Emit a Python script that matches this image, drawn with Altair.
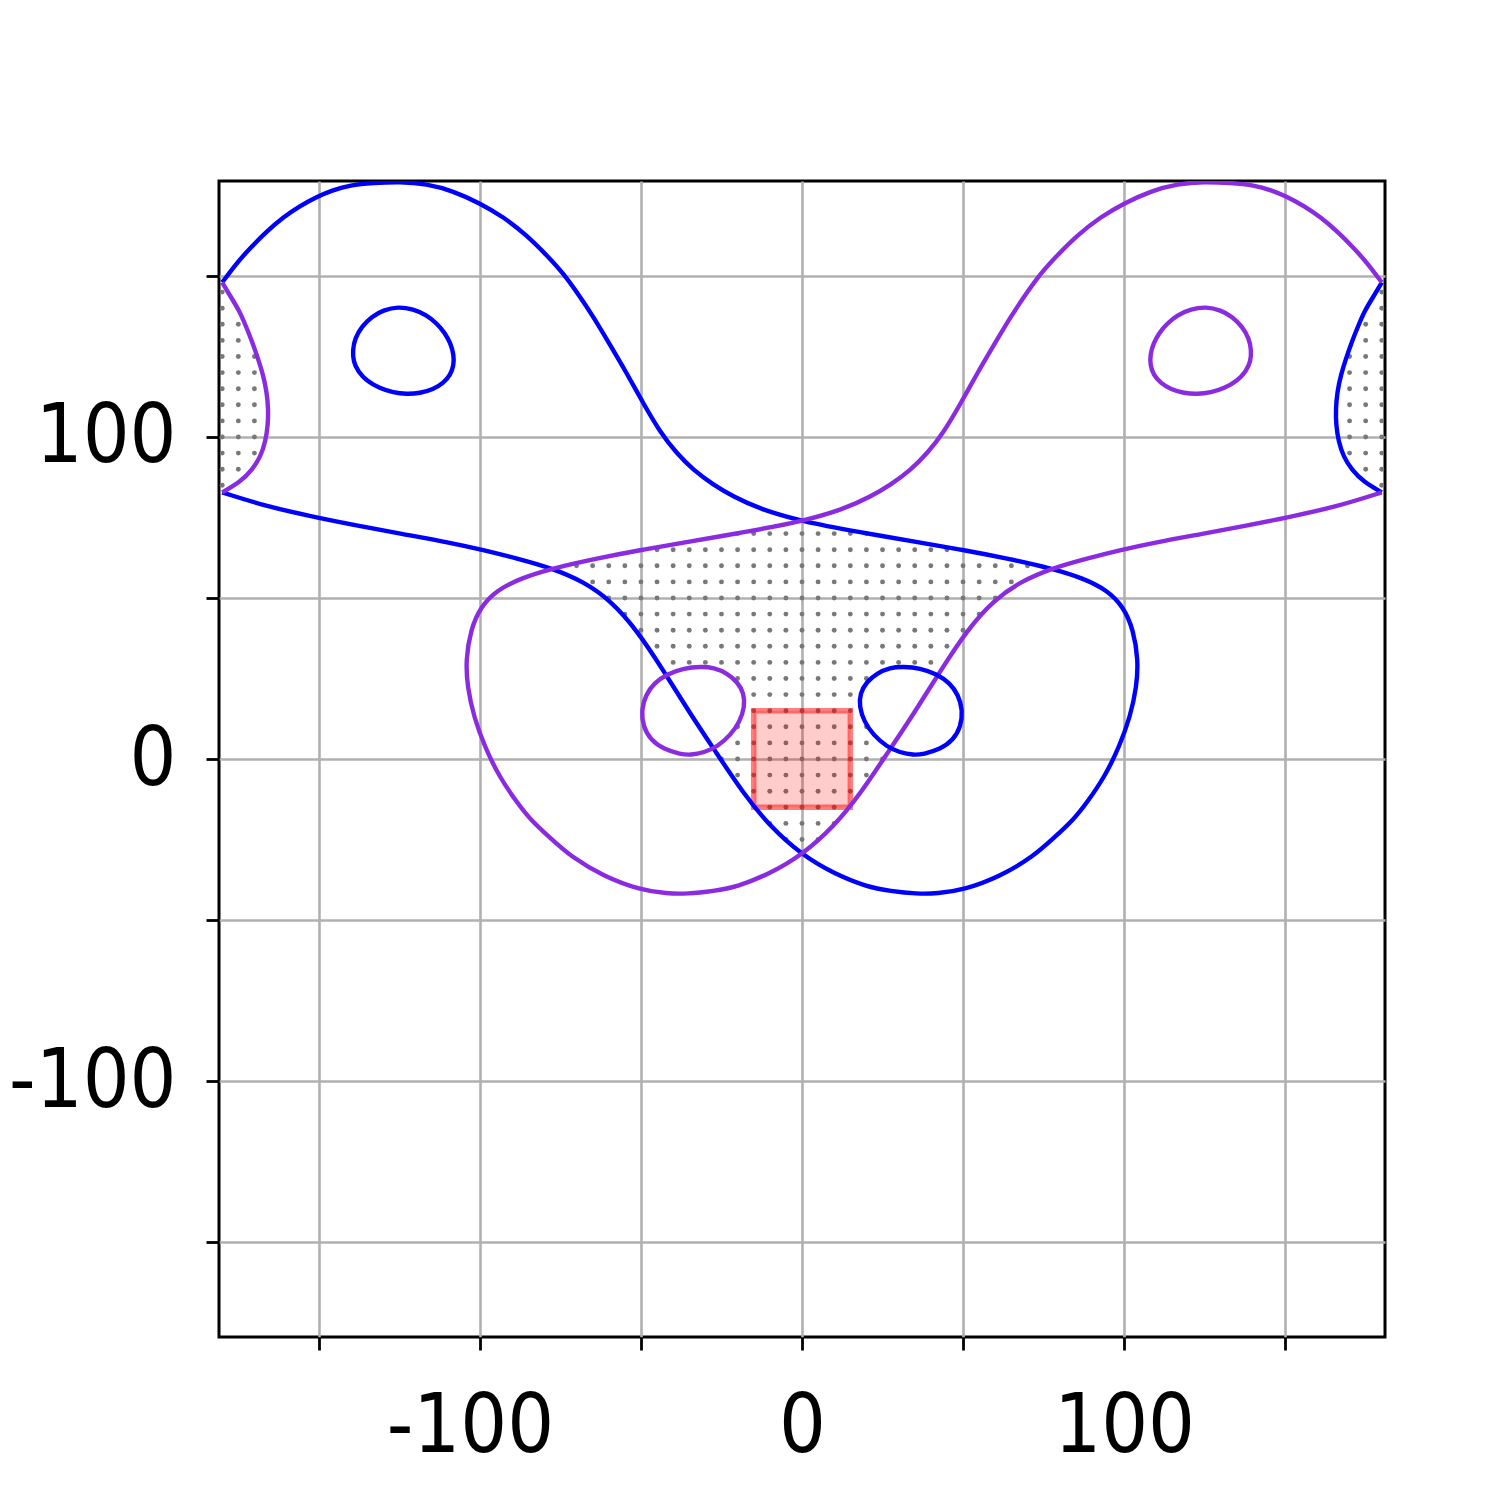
import altair as alt
import pandas as pd

# ---------------- data (phi = x, psi = y) ----------------
X_DOMAIN = [-181, 181]
Y_DOMAIN = [-179.5, 179.5]
TICKS = [-150, -100, -50, 0, 50, 100, 150]

# blue main contour (wraps around the periodic domain)
blue_main_x = [-180.0, -175.6, -171.4, -166.2, -161.1, -155.9, -150.7, -145.6, -140.4, -133.1,
               -124.8, -116.6, -108.3, -100.0, -92.8, -85.5, -79.3, -74.1, -70.0, -64.8,
               -59.6, -54.4, -49.3, -44.1, -38.9, -33.8, -27.5, -21.3, -13.0, 0.0,
               17.0, 37.7, 50.1, 63.6, 77.5, 87.4, 94.6, 99.8, 102.9, 104.4,
               103.9, 101.9, 98.5, 94.0, 88.5, 84.3, 78.1, 71.8, 61.5, 50.1,
               42.0, 35.6, 27.5, 20.1, 9.7, 0.0, -9.9, -18.2, -26.5, -34.8,
               -43.1, -51.3, -59.6, -67.9, -77.5, -88.6, -99.0, -109.3, -124.8, -137.0,
               -149.7, -166.2, -180.0]
blue_main_y = [148.0, 153.9, 158.6, 163.8, 168.2, 171.7, 174.6, 176.7, 178.2, 178.9,
               179.3, 178.6, 176.4, 172.6, 168.4, 162.7, 156.5, 150.8, 145.1, 137.4,
               128.6, 119.8, 110.5, 101.6, 94.9, 89.8, 85.1, 81.5, 77.6, 73.8,
               70.6, 67.0, 64.9, 62.3, 59.2, 56.1, 52.5, 47.3, 40.1, 30.7,
               22.5, 13.1, 3.8, -5.5, -13.5, -18.9, -24.6, -30.3, -36.5, -40.7,
               -41.8, -41.9, -41.0, -39.7, -35.5, -29.8, -21.0, -10.7, 1.8, 14.2,
               27.6, 40.1, 49.4, 55.1, 59.2, 62.3, 64.9, 67.2, 70.0, 72.3,
               74.8, 78.4, 82.8]
# blue piece on the right edge
blue_edge_x = [180.0, 177.4, 174.8, 172.8, 170.7, 168.9, 167.3, 166.2, 165.7, 165.8, 166.6, 168.1, 170.7, 174.3, 180.0]
blue_edge_y = [148.0, 143.6, 139.4, 134.8, 129.6, 124.4, 119.3, 114.1, 108.9, 103.7, 98.5, 93.9, 89.8, 86.1, 82.8]
# blue small loops
blue_loop1_x = [-125.4, -120.7, -116.6, -113.4, -110.9, -109.1, -108.1, -108.1, -109.1, -111.4, -114.5, -118.6,
                -122.8, -126.9, -131.1, -135.2, -137.8, -139.3, -139.5, -138.8, -136.7, -133.6, -130.0]
blue_loop1_y = [140.5, 139.7, 137.9, 135.3, 132.4, 129.1, 125.5, 122.4, 119.3, 116.7, 114.8, 113.6,
                113.3, 113.8, 115.1, 117.5, 120.3, 123.4, 127.0, 130.6, 134.3, 137.4, 139.4]
blue_loop2_x = [31.5, 36.6, 41.8, 46.0, 48.5, 49.9, 49.3, 47.0, 42.9, 37.7, 34.6, 30.4, 26.3, 22.1, 19.3, 17.8, 18.0, 20.1, 23.2, 27.3]
blue_loop2_y = [28.7, 28.2, 26.4, 23.5, 19.9, 15.2, 10.0, 5.9, 3.0, 1.5, 1.2, 2.0, 3.8, 7.5, 11.6, 16.2, 20.4, 24.0, 26.6, 28.4]

# purple main contour
purple_main_x = [180.0, 175.6, 171.4, 166.2, 161.1, 155.9, 150.7, 145.6, 140.4, 133.1,
                 124.8, 116.6, 108.3, 100.0, 92.8, 85.5, 79.3, 74.1, 70.0, 64.8,
                 59.6, 54.4, 49.3, 44.1, 38.9, 33.8, 27.5, 21.3, 13.0, 0.0,
                 -17.0, -37.7, -50.1, -63.6, -77.5, -87.4, -94.6, -99.8, -102.9, -104.4,
                 -103.9, -101.9, -98.5, -94.0, -88.5, -84.3, -78.1, -71.8, -61.5, -50.1,
                 -42.0, -35.6, -27.5, -20.1, -9.7, 0.0, 9.9, 18.2, 26.5, 34.8,
                 43.1, 51.3, 59.6, 67.9, 77.5, 88.6, 99.0, 109.3, 124.8, 137.0,
                 149.7, 166.2, 180.0]
purple_main_y = [148.0, 153.9, 158.6, 163.8, 168.2, 171.7, 174.6, 176.7, 178.2, 178.9,
                 179.3, 178.6, 176.4, 172.6, 168.4, 162.7, 156.5, 150.8, 145.1, 137.4,
                 128.6, 119.8, 110.5, 101.6, 94.9, 89.8, 85.1, 81.5, 77.6, 73.8,
                 70.6, 67.0, 64.9, 62.3, 59.2, 56.1, 52.5, 47.3, 40.1, 30.7,
                 22.5, 13.1, 3.8, -5.5, -13.5, -18.9, -24.6, -30.3, -36.5, -40.7,
                 -41.8, -41.9, -41.0, -39.7, -35.5, -29.8, -21.0, -10.7, 1.8, 14.2,
                 27.6, 40.1, 49.4, 55.1, 59.2, 62.3, 64.9, 67.2, 70.0, 72.3,
                 74.8, 78.4, 82.8]
purple_edge_x = [-180.0, -177.4, -174.8, -172.8, -170.7, -168.9, -167.3, -166.2, -165.7, -165.8, -166.6, -168.1, -170.7, -174.3, -180.0]
purple_edge_y = [148.0, 143.6, 139.4, 134.8, 129.6, 124.4, 119.3, 114.1, 108.9, 103.7, 98.5, 93.9, 89.8, 86.1, 82.8]
purple_loop1_x = [125.4, 120.7, 116.6, 113.4, 110.9, 109.1, 108.1, 108.1, 109.1, 111.4, 114.5, 118.6,
                  122.8, 126.9, 131.1, 135.2, 137.8, 139.3, 139.5, 138.8, 136.7, 133.6, 130.0]
purple_loop1_y = [140.5, 139.7, 137.9, 135.3, 132.4, 129.1, 125.5, 122.4, 119.3, 116.7, 114.8, 113.6,
                  113.3, 113.8, 115.1, 117.5, 120.3, 123.4, 127.0, 130.6, 134.3, 137.4, 139.4]
purple_loop2_x = [-31.5, -36.6, -41.8, -46.0, -48.5, -49.9, -49.3, -47.0, -42.9, -37.7, -34.6, -30.4, -26.3, -22.1, -19.3, -17.8, -18.0, -20.1, -23.2, -27.3]
purple_loop2_y = [28.7, 28.2, 26.4, 23.5, 19.9, 15.2, 10.0, 5.9, 3.0, 1.5, 1.2, 2.0, 3.8, 7.5, 11.6, 16.2, 20.4, 24.0, 26.6, 28.4]

# crossing points of the two main contours (indices in the main lists)
TOP, RIGHT, BOTTOM, LEFT = 29, 34, 55, 64

# selected square
SEL_LO, SEL_HI = -15, 15
# hatch spacing (dots of the hatched region)
HATCH_STEP = 5

# ---------------- build tables ----------------
def add_line(xs, ys, series, seg, table):
    for i, (a, b) in enumerate(zip(xs, ys)):
        table.append({"x": a, "y": b, "series": series, "seg": seg, "ord": i})

rows = []
add_line(blue_main_x, blue_main_y, "blue", "bm", rows)
add_line(blue_edge_x, blue_edge_y, "blue", "be", rows)
add_line(purple_main_x, purple_main_y, "purple", "pm", rows)
add_line(purple_edge_x, purple_edge_y, "purple", "pe", rows)
lines_df = pd.DataFrame(rows)

lrows = []
add_line(blue_loop1_x, blue_loop1_y, "blue", "bl1", lrows)
add_line(blue_loop2_x, blue_loop2_y, "blue", "bl2", lrows)
add_line(purple_loop1_x, purple_loop1_y, "purple", "pl1", lrows)
add_line(purple_loop2_x, purple_loop2_y, "purple", "pl2", lrows)
loops_df = pd.DataFrame(lrows)

# hatched regions built from the contour pieces
B = list(zip(blue_main_x, blue_main_y))
P = list(zip(purple_main_x, purple_main_y))
center_poly = B[TOP:RIGHT + 1] + P[BOTTOM:LEFT + 1][::-1] + B[BOTTOM:LEFT + 1] + P[TOP:RIGHT + 1][::-1]
left_poly = list(zip(purple_edge_x, purple_edge_y)) + [(-181.5, 82.8), (-181.5, 148.0)]
right_poly = list(zip(blue_edge_x, blue_edge_y)) + [(181.5, 82.8), (181.5, 148.0)]
holes = [list(zip(blue_loop2_x, blue_loop2_y)), list(zip(purple_loop2_x, purple_loop2_y))]

def inside(px, py, poly):
    res = False
    j = len(poly) - 1
    for i in range(len(poly)):
        xi, yi = poly[i]
        xj, yj = poly[j]
        if (yi > py) != (yj > py):
            xc = xi + (py - yi) * (xj - xi) / (yj - yi)
            if px < xc:
                res = not res
        j = i
    return res

dots = []
for gx in range(-180, 181, HATCH_STEP):
    for gy in range(-180, 181, HATCH_STEP):
        ok = inside(gx, gy, left_poly) or inside(gx, gy, right_poly)
        if not ok and inside(gx, gy, center_poly):
            ok = not any(inside(gx, gy, h) for h in holes)
        if ok:
            dots.append({"x": gx, "y": gy})
dots_df = pd.DataFrame(dots)

sel_df = pd.DataFrame([{"x": SEL_LO, "x2": SEL_HI, "y": SEL_LO, "y2": SEL_HI}])

# ---------------- chart ----------------
LABEL_EXPR = "abs(datum.value) % 100 == 0 ? '' + datum.value : ''"
FONT = "DejaVu Sans Condensed"

def make_axis(pad, **extra):
    return alt.Axis(values=TICKS, grid=True, gridColor="#b0b0b0", gridWidth=2.6,
                    domain=False, ticks=True, tickColor="black", tickWidth=2.8, tickSize=13,
                    labelExpr=LABEL_EXPR, labelFont=FONT, labelFontSize=82, labelColor="black",
                    labelPadding=pad, labelOverlap=False, labelFlush=False, labelLimit=0, title=None,
                    **extra)

xaxis = make_axis(36, labelOffset={"condition": {"test": "datum.value < 0", "value": -10}, "value": 0})
yaxis = make_axis(30)

X = alt.X("x:Q", scale=alt.Scale(domain=X_DOMAIN, nice=False, zero=False), axis=xaxis)
Y = alt.Y("y:Q", scale=alt.Scale(domain=Y_DOMAIN, nice=False, zero=False), axis=yaxis)
color = alt.Color("series:N", scale=alt.Scale(domain=["blue", "purple"], range=["#0000ff", "#8a2be2"]), legend=None)

dots_layer = alt.Chart(dots_df).mark_circle(size=24, color="#787878", opacity=1, clip=True).encode(x=X, y=Y)

sel_layer = alt.Chart(sel_df).mark_rect(fill="red", fillOpacity=0.2, stroke="red", strokeOpacity=0.5,
                                        strokeWidth=5.5).encode(x=X, x2="x2:Q", y=Y, y2="y2:Q")

lines_layer = alt.Chart(lines_df).mark_line(strokeWidth=4.4, interpolate="basis", clip=True).encode(
    x=X, y=Y, color=color, detail="seg:N", order=alt.Order("ord:Q"))

loops_layer = alt.Chart(loops_df).mark_line(strokeWidth=4.4, interpolate="basis-closed", clip=True).encode(
    x=X, y=Y, color=color, detail="seg:N", order=alt.Order("ord:Q"))

chart = alt.layer(dots_layer, sel_layer, lines_layer, loops_layer).properties(
    width=1166, height=1156,
    padding={"left": 211, "top": 173, "right": 111, "bottom": 159},
    autosize=alt.AutoSizeParams(type="none"),
    background="white",
).configure_view(stroke="black", strokeWidth=3)

chart.save("out.html", embed_options={"renderer": "svg", "actions": False})
